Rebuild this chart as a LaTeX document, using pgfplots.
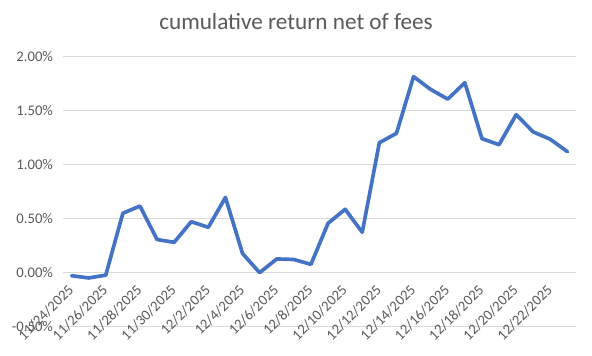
\documentclass[border=0pt]{standalone}
\usepackage{pgfplots}
\pgfplotsset{compat=1.18}
\usepackage{fontspec}
\setmainfont{Carlito}
\definecolor{linec}{HTML}{4472C4}
\definecolor{gridc}{HTML}{D9D9D9}
\definecolor{textc}{HTML}{595959}
\begin{document}
\begin{tikzpicture}
\path[use as bounding box] (0,0) rectangle (444pt,267pt);
\begin{axis}[
  at={(47.25pt,21.75pt)}, anchor=south west,
  scale only axis, width=384.75pt, height=202.5pt,
  xmin=-0.5, xmax=29.5, ymin=-0.5, ymax=2.0,
  axis line style={draw=none},
  major tick length=0pt,
  ymajorgrids, grid style={gridc, line width=0.75pt},
  ytick={-0.5,0,0.5,1,1.5,2},
  yticklabel={\pgfmathprintnumber[fixed,fixed zerofill,precision=2]{\tick}\%},
  /pgf/number format/assume math mode=true,
  xtick={0,2,...,28},
  xticklabels={11/24/2025,11/26/2025,11/28/2025,11/30/2025,12/2/2025,12/4/2025,12/6/2025,12/8/2025,12/10/2025,12/12/2025,12/14/2025,12/16/2025,12/18/2025,12/20/2025,12/22/2025},
  xticklabel style={yshift=32pt, xshift=2pt, rotate=45, anchor=east, font=\fontsize{11}{13}\selectfont, text=textc},
  yticklabel style={font=\fontsize{11}{13}\selectfont, text=textc, xshift=-4pt},
  clip=false,
]
\addplot[linec, line width=2.75pt, line join=round, line cap=round] coordinates {
(0,-0.025) (1,-0.046) (2,-0.02) (3,0.553) (4,0.62) (5,0.31) (6,0.284) (7,0.475)
(8,0.423) (9,0.70) (10,0.18) (11,0.003) (12,0.13) (13,0.125) (14,0.08) (15,0.46)
(16,0.59) (17,0.377) (18,1.206) (19,1.293) (20,1.818) (21,1.70) (22,1.61) (23,1.762)
(24,1.244) (25,1.188) (26,1.466) (27,1.306) (28,1.238) (29,1.123)
};
\end{axis}
\node[text=textc, font=\fontsize{17.4}{21}\selectfont] at (222pt,250.5pt) {cumulative return net of fees};
\end{tikzpicture}
\end{document}
